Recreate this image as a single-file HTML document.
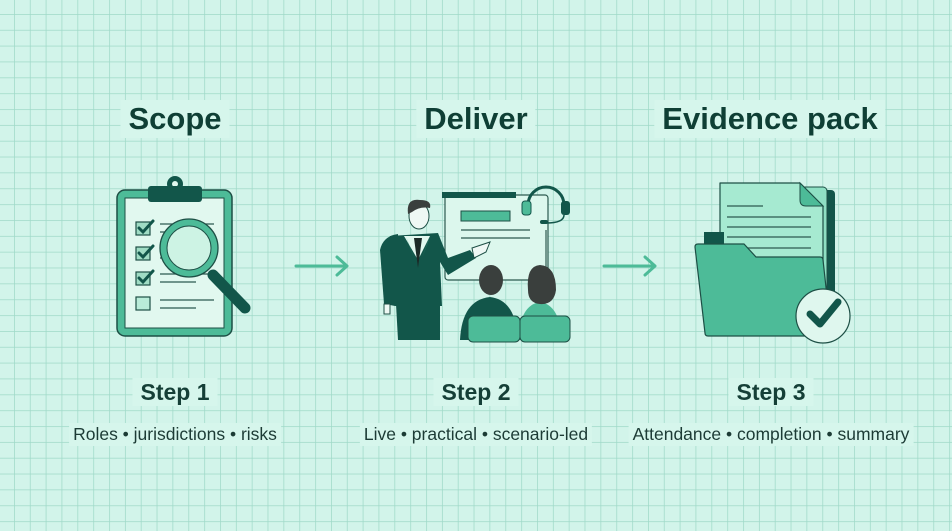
<!DOCTYPE html>
<html><head><meta charset="utf-8"><style>
html,body{margin:0;padding:0;background:#d2f4ea;}
body{width:952px;height:531px;overflow:hidden;position:relative;font-family:"Liberation Sans",sans-serif;}
svg{position:absolute;left:0;top:0;}
.t{position:absolute;transform:translateX(-50%);white-space:nowrap;background:#d6f6ec;color:#0f3f35;padding:0 8px;}
.h{font-size:31px;font-weight:bold;top:100px;line-height:38px;}
.s{font-size:23px;font-weight:bold;top:378px;line-height:28px;color:#153f37;}
.d{font-size:17.5px;top:423px;line-height:23px;color:#1c3b35;padding:0 4px;}
</style></head><body>
<svg width="952" height="531" viewBox="0 0 952 531">
<defs><pattern id="g" x="14" y="14" width="15.85" height="15.85" patternUnits="userSpaceOnUse">
<path d="M0 0V15.85M0 0H15.85" stroke="#9fd9c8" stroke-width="1.5" fill="none"/></pattern></defs>
<rect width="952" height="531" fill="url(#g)"/>
<!-- clipboard -->
<rect x="117" y="190" width="115" height="146" rx="8" fill="#4dbb98" stroke="#1d4f45" stroke-width="1.5"/>
<rect x="125" y="198" width="99" height="130" fill="#e1f8ef" stroke="#1d4f45" stroke-width="1"/>
<circle cx="175" cy="184" r="8" fill="#12564a"/><circle cx="175" cy="184" r="3" fill="#e1f8ef"/>
<rect x="148" y="186" width="54" height="16" rx="3" fill="#12564a"/>
<g stroke="#1d4f45" stroke-width="1.2" fill="#9fdcc4">
<rect x="136" y="222" width="14" height="13"/><rect x="136" y="247" width="14" height="13"/><rect x="136" y="272" width="14" height="13"/><rect x="136" y="297" width="14" height="13" fill="#b9ecd9"/></g>
<g stroke="#12564a" stroke-width="3" fill="none" stroke-linecap="round">
<path d="M139 228l4 4 10-11"/><path d="M139 253l4 4 10-11"/><path d="M139 278l4 4 10-11"/></g>
<g stroke="#2d5a50" stroke-width="1.3"><path d="M160 224H214M160 232H196M160 249H214M160 258H196M160 274H214M160 282H196M160 300H214M160 308H196"/></g>
<line x1="213" y1="275" x2="245" y2="308" stroke="#12564a" stroke-width="11" stroke-linecap="round"/>
<circle cx="189" cy="248" r="29" fill="#4dbb98" stroke="#1d4f45" stroke-width="1.3"/>
<circle cx="189" cy="248" r="22" fill="#cdf3e4" stroke="#1d4f45" stroke-width="1"/>
<!-- arrows -->
<g stroke="#4dbb98" stroke-width="3" fill="none" stroke-linecap="round" stroke-linejoin="round">
<path d="M296 266H347M337 257l10 9-10 9"/><path d="M604 266H655M645 257l10 9-10 9"/></g>
<!-- deliver -->
<rect x="445" y="195" width="103" height="85" rx="3" fill="#dcf7ed" stroke="#2d5a50" stroke-width="1.2"/>
<rect x="442" y="192" width="74" height="6" fill="#12564a"/>
<rect x="461" y="211" width="49" height="10" fill="#4dbb98" stroke="#1d4f45"/>
<path d="M461 230H530M461 238H530" stroke="#2d5a50" stroke-width="1.2"/>
<path d="M528 205a18 18 0 0 1 36 0" stroke="#12564a" stroke-width="3" fill="none"/>
<rect x="522" y="201" width="9" height="14" rx="3" fill="#4dbb98" stroke="#12564a"/>
<rect x="561" y="201" width="9" height="14" rx="3" fill="#12564a"/>
<path d="M564 215q0 8-18 8" stroke="#12564a" stroke-width="1.5" fill="none"/>
<rect x="540" y="220" width="8" height="4" rx="2" fill="#12564a"/>
<line x1="546" y1="230" x2="546" y2="280" stroke="#2d5a50" stroke-width="1.2"/>
<!-- presenter -->
<path d="M390 236L438 233L448 258L470 250L476 258L448 275L440 262L442 306H395L390 305Z" fill="#12564a"/>
<path d="M380 250Q383 236 398 234L398 304H384Z" fill="#12564a"/>
<path d="M396 304H440V340H398Z" fill="#12564a"/>
<path d="M404 236L418 260L430 236" fill="#e1f8ef"/>
<path d="M414 238L418 268L422 238Z" fill="#1b2a27"/>
<path d="M406 236L414 258L408 242Z M430 236L422 258L428 242Z" fill="#4dbb98"/>
<path d="M472 248L490 242L486 252L474 258Z" fill="#eef8f4" stroke="#1d4f45"/>
<path d="M384 304v10l6 0v-10Z" fill="#eef8f4" stroke="#1d4f45"/>
<ellipse cx="419" cy="216" rx="10" ry="13" fill="#eef8f4" stroke="#1d4f45"/>
<path d="M408 214Q406 198 420 200Q432 200 430 208Q420 206 412 212Z" fill="#3a3f3d"/>
<!-- audience -->
<path d="M460 340Q462 300 490 297Q516 300 518 340Z" fill="#12564a"/>
<ellipse cx="491" cy="280" rx="12" ry="15" fill="#3a3f3d"/>
<path d="M518 340Q520 305 540 302Q560 305 562 340Z" fill="#4dbb98"/>
<path d="M528 290Q526 266 540 265Q556 266 556 290Q554 305 540 304Q528 303 528 290Z" fill="#3a3f3d"/>
<rect x="468" y="316" width="52" height="26" rx="5" fill="#4dbb98" stroke="#1d4f45"/>
<rect x="520" y="316" width="50" height="26" rx="5" fill="#4dbb98" stroke="#1d4f45"/>
<!-- evidence -->
<rect x="725" y="190" width="110" height="120" rx="4" fill="#12564a"/>
<rect x="722" y="187" width="105" height="120" rx="4" fill="#8fe0c4" stroke="#1d4f45"/>
<path d="M720 183H800L823 206V300H720Z" fill="#a6ead1" stroke="#1d4f45" stroke-width="1.2" stroke-linejoin="round"/>
<path d="M800 183V200Q800 206 806 206H823Z" fill="#4dbb98" stroke="#1d4f45"/>
<rect x="704" y="232" width="20" height="20" fill="#12564a"/>
<path d="M727 206H763M727 217H811M727 227H811M727 237H811M727 248H811" stroke="#2d5a50" stroke-width="1.3"/>
<path d="M695 247Q695 244 698 244H744L756 257H820Q823 257 823 260L831 333Q831 336 828 336H708Q705 336 705 333Z" fill="#4dbb98" stroke="#1d4f45" stroke-width="1.2"/>
<circle cx="823" cy="316" r="27" fill="#dff7ee" stroke="#1d4f45" stroke-width="1.2"/>
<path d="M810 314l10 10 18-22" stroke="#12564a" stroke-width="7" fill="none" stroke-linecap="round" stroke-linejoin="round"/>
</svg>
<div class="t h" style="left:175px">Scope</div>
<div class="t h" style="left:476px">Deliver</div>
<div class="t h" style="left:770px">Evidence pack</div>
<div class="t s" style="left:175px">Step 1</div>
<div class="t s" style="left:476px">Step 2</div>
<div class="t s" style="left:771px">Step 3</div>
<div class="t d" style="left:175px">Roles • jurisdictions • risks</div>
<div class="t d" style="left:476px">Live • practical • scenario-led</div>
<div class="t d" style="left:771px">Attendance • completion • summary</div>
</body></html>
